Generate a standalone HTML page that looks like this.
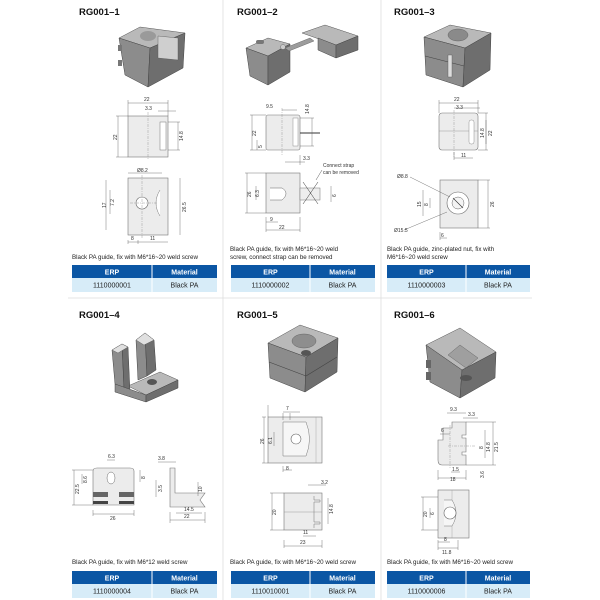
<!DOCTYPE html>
<html><head><meta charset="utf-8"><style>
html,body{margin:0;padding:0;background:#fff;}
svg{display:block;}
.t{font-family:"Liberation Sans",sans-serif;font-weight:bold;font-size:9.5px;fill:#111;}
.c{font-family:"Liberation Sans",sans-serif;font-size:6.2px;fill:#222;}
.d{font-family:"Liberation Sans",sans-serif;font-size:5px;fill:#333;}
.h{font-family:"Liberation Sans",sans-serif;font-weight:bold;font-size:7px;fill:#fff;}
.r{font-family:"Liberation Sans",sans-serif;font-size:7px;fill:#222;}
.v{fill:#ececec;stroke:#777;stroke-width:0.6;}
.dl{stroke:#555;stroke-width:0.4;fill:none;}
.cl{stroke:#888;stroke-width:0.4;stroke-dasharray:3 1 1 1;fill:none;}
.top{fill:#b9b9b9;stroke:#555;stroke-width:0.5;}
.fr{fill:#8c8c8c;stroke:#444;stroke-width:0.5;}
.sd{fill:#6e6e6e;stroke:#444;stroke-width:0.5;}
</style></head><body>
<svg width="600" height="600" viewBox="0 0 600 600" xmlns="http://www.w3.org/2000/svg">
<rect width="600" height="600" fill="#fff"/>
<!-- dividers -->
<line x1="223" y1="0" x2="223" y2="600" stroke="#ddd" stroke-width="0.8"/>
<line x1="381" y1="0" x2="381" y2="600" stroke="#ddd" stroke-width="0.8"/>
<line x1="68" y1="298" x2="532" y2="298" stroke="#ddd" stroke-width="0.8"/>

<!-- titles -->
<text class="t" x="79" y="15">RG001–1</text>
<text class="t" x="237" y="15">RG001–2</text>
<text class="t" x="394" y="15">RG001–3</text>
<text class="t" x="79" y="318">RG001–4</text>
<text class="t" x="237" y="318">RG001–5</text>
<text class="t" x="394" y="318">RG001–6</text>

<!-- ===== Cell 1 ===== -->
<polygon class="top" points="119,38 140,27 185,33 150,48"/>
<polygon class="fr" points="119,38 150,48 148,87 125,75"/>
<polygon class="sd" points="150,48 185,33 183,68 148,87"/>
<polygon fill="#cfcfcf" stroke="#555" stroke-width="0.4" points="158,36 178,38 178,60 158,58"/>
<ellipse cx="148" cy="36" rx="8" ry="5" fill="#9a9a9a"/>
<rect x="118" y="45" width="4" height="6" fill="#777"/><rect x="118" y="60" width="4" height="6" fill="#777"/>
<!-- side view -->
<rect class="v" x="128" y="116" width="40" height="41"/>
<rect x="160" y="122" width="6" height="28" fill="#fff" stroke="#777" stroke-width="0.5"/>
<line class="cl" x1="148" y1="112" x2="148" y2="160"/>
<path class="dl" d="M128,100 V116 M168,100 V116 M128,103 H168 M158,111 H176 M118,116 V157 M116,116 H128 M116,157 H128 M178,122 V150 M168,122 H180 M168,150 H180"/>
<text class="d" x="144" y="101">22</text><text class="d" x="145" y="110">3.3</text>
<text class="d" x="117" y="140" transform="rotate(-90 117 140)">22</text>
<text class="d" x="183" y="141" transform="rotate(-90 183 141)">14.8</text>
<!-- bottom view -->
<rect class="v" x="128" y="178" width="40" height="57"/>
<path d="M160,190 Q152,203 160,216" fill="#fff" stroke="#777" stroke-width="0.5"/>
<circle cx="142" cy="203" r="6" fill="#fff" stroke="#666" stroke-width="0.6"/>
<line class="cl" x1="130" y1="203" x2="158" y2="203"/><line class="cl" x1="142" y1="175" x2="142" y2="238"/>
<path class="dl" d="M128,173 H162 M110,190 V214 M106,180 V230 M180,178 V235 M128,240 V244 M128,242 H168 M138,240 V244"/>
<text class="d" x="137" y="172">Ø8.2</text>
<text class="d" x="106" y="208" transform="rotate(-90 106 208)">17</text>
<text class="d" x="114" y="206" transform="rotate(-90 114 206)">7.2</text>
<text class="d" x="186" y="212" transform="rotate(-90 186 212)">26.5</text>
<text class="d" x="131" y="240">8</text><text class="d" x="150" y="240">11</text>

<!-- ===== Cell 2 ===== -->
<polygon class="top" points="246,48 268,38 290,44 268,56"/>
<polygon class="fr" points="246,48 268,56 268,85 250,76"/>
<polygon class="sd" points="268,56 290,44 290,72 268,85"/>
<polygon fill="#9c9c9c" stroke="#555" stroke-width="0.4" points="285,48 310,38 314,41 289,51"/>
<polygon class="top" points="302,33 325,25 358,36 336,45"/>
<polygon class="fr" points="318,38 336,45 336,58 318,50"/>
<polygon class="sd" points="336,45 358,36 358,50 336,58"/>
<rect x="256" y="40" width="8" height="4" rx="2" fill="#777"/>
<circle cx="283" cy="47" r="2.5" fill="#ccc" stroke="#555" stroke-width="0.4"/>
<!-- side view -->
<rect class="v" x="266" y="115" width="34" height="35" rx="2"/>
<rect x="293" y="118" width="5" height="28" fill="#fff" stroke="#777" stroke-width="0.4"/>
<line x1="300" y1="133" x2="320" y2="133" stroke="#333" stroke-width="1"/>
<line class="cl" x1="282" y1="108" x2="282" y2="155"/>
<path class="dl" d="M282,110 H297 M252,115 V150 M250,115 H266 M250,150 H266 M257,140 V150 M312,118 V146 M300,118 H314 M300,146 H314 M285,162 H305 M300,155 V165"/>
<text class="d" x="266" y="108">9.5</text>
<text class="d" x="256" y="136" transform="rotate(-90 256 136)">22</text>
<text class="d" x="262" y="148" transform="rotate(-90 262 148)">5</text>
<text class="d" x="309" y="114" transform="rotate(-90 309 114)">14.8</text>
<text class="d" x="303" y="160">3.3</text>
<!-- bottom view -->
<rect class="v" x="266" y="173" width="34" height="40"/>
<path d="M270,188 H282 Q290,193 282,200 H270" fill="#fff" stroke="#666" stroke-width="0.5"/>
<rect x="300" y="188" width="20" height="12" fill="#eee" stroke="#777" stroke-width="0.5"/>
<path d="M303,182 L318,204 M318,182 L303,204" stroke="#333" stroke-width="0.5"/>
<line x1="316" y1="180" x2="322" y2="170" stroke="#333" stroke-width="0.4"/>
<text class="d" x="323" y="167">Connect strap</text><text class="d" x="323" y="174">can be removed</text>
<path class="dl" d="M247,173 V213 M245,173 H266 M245,213 H266 M256,186 V200 M331,186 V202 M266,217 V232 M300,217 V232 M266,230 H300 M266,222 H278"/>
<text class="d" x="251" y="197" transform="rotate(-90 251 197)">26</text>
<text class="d" x="259" y="197" transform="rotate(-90 259 197)">6.3</text>
<text class="d" x="336" y="197" transform="rotate(-90 336 197)">6</text>
<text class="d" x="270" y="221">9</text><text class="d" x="279" y="229">22</text>

<!-- ===== Cell 3 ===== -->
<polygon class="top" points="424,37 450,25 491,33 465,48" fill="#c2c2c2"/>
<ellipse cx="458" cy="35" rx="10" ry="6" fill="#8a8a8a" stroke="#555" stroke-width="0.4"/>
<polygon class="fr" points="424,37 465,48 463,87 426,75"/>
<polygon class="sd" points="465,48 491,33 490,70 463,87"/>
<line x1="425" y1="56" x2="464" y2="66" stroke="#444" stroke-width="0.6"/>
<rect x="448" y="55" width="4" height="22" fill="#ddd" stroke="#555" stroke-width="0.4"/>
<!-- side view -->
<rect class="v" x="439" y="113" width="39" height="37" rx="3"/>
<line x1="439" y1="131" x2="478" y2="131" stroke="#888" stroke-width="0.4"/>
<rect x="469" y="120" width="5" height="24" rx="2" fill="#fff" stroke="#777" stroke-width="0.4"/>
<line class="cl" x1="454" y1="110" x2="454" y2="158"/>
<path class="dl" d="M439,100 V113 M478,100 V113 M439,103 H478 M454,108 H480 M486,113 V150 M478,113 H488 M478,150 H488 M486,120 V144 M454,152 V160 M454,158 H473"/>
<text class="d" x="454" y="101">22</text><text class="d" x="456" y="109">3.3</text>
<text class="d" x="492" y="136" transform="rotate(-90 492 136)">22</text>
<text class="d" x="484" y="138" transform="rotate(-90 484 138)">14.8</text>
<text class="d" x="461" y="157">11</text>
<!-- bottom view -->
<rect class="v" x="440" y="180" width="38" height="48"/>
<circle cx="458" cy="203" r="11" fill="#fff" stroke="#666" stroke-width="0.6"/>
<circle cx="458" cy="203" r="6" fill="#f4f4f4" stroke="#666" stroke-width="0.5"/>
<line x1="453" y1="198" x2="463" y2="208" stroke="#333" stroke-width="0.6"/>
<path class="dl" d="M410,177 L450,197 M404,230 L447,212 M423,190 V216 M430,198 V208 M488,180 V228 M478,180 H490 M478,228 H490 M440,232 V240 M440,238 H447"/>
<text class="d" x="397" y="178">Ø8.8</text><text class="d" x="394" y="232">Ø15.5</text>
<text class="d" x="421" y="207" transform="rotate(-90 421 207)">15</text>
<text class="d" x="428" y="206" transform="rotate(-90 428 206)">8</text>
<text class="d" x="494" y="207" transform="rotate(-90 494 207)">26</text>
<text class="d" x="441" y="237">6</text>

<!-- ===== Cell 4 ===== -->
<polygon class="top" points="128,386 160,372 178,380 146,395"/>
<polygon class="fr" points="112,350 122,344 124,388 115,384"/>
<polygon class="fr" points="136,340 145,333 147,376 138,380"/>
<polygon class="sd" points="122,344 128,347 130,392 124,388"/>
<polygon class="sd" points="145,333 154,340 156,370 147,376"/>
<polygon fill="#e0e0e0" stroke="#555" stroke-width="0.4" points="112,350 122,344 128,347 118,353"/>
<polygon fill="#e0e0e0" stroke="#555" stroke-width="0.4" points="136,340 145,333 154,340 144,345"/>
<polygon class="fr" points="115,384 146,395 146,402 115,392"/>
<polygon class="sd" points="146,395 178,380 178,388 146,402"/>
<ellipse cx="152" cy="382" rx="5" ry="3" fill="#555"/>
<!-- front view -->
<path class="v" d="M93,471 Q93,468 97,468 H130 Q134,468 134,471 V505 H93 Z"/>
<rect x="93" y="492" width="15" height="5" fill="#666"/><rect x="119" y="492" width="15" height="5" fill="#666"/>
<rect x="93" y="501" width="15" height="3" fill="#444"/><rect x="119" y="501" width="15" height="3" fill="#444"/>
<ellipse cx="111" cy="478" rx="4" ry="6" fill="#fff" stroke="#666" stroke-width="0.5"/>
<path class="dl" d="M74,470 V505 M72,470 H93 M72,505 H93 M82,474 V484 M140,470 V482 M93,510 V516 M134,510 V516 M93,514 H134 M107,460 H115"/>
<text class="d" x="108" y="458">6.3</text>
<text class="d" x="79" y="494" transform="rotate(-90 79 494)">22.5</text>
<text class="d" x="87" y="483" transform="rotate(-90 87 483)">8.6</text>
<text class="d" x="145" y="479" transform="rotate(-90 145 479)">8</text>
<text class="d" x="110" y="520">26</text>
<!-- L view -->
<path d="M170,468 H175 V493 H205 L200,500 L205,507 H170 Z" fill="#ececec" stroke="#777" stroke-width="0.6"/>
<path class="dl" d="M158,462 H176 M156,480 V497 M198,482 V496 M176,513 H202 M170,520 H205 M170,512 V523 M205,512 V523"/>
<text class="d" x="158" y="460">3.8</text>
<text class="d" x="162" y="492" transform="rotate(-90 162 492)">3.5</text>
<text class="d" x="202" y="492" transform="rotate(-90 202 492)">10</text>
<text class="d" x="184" y="511">14.5</text><text class="d" x="184" y="518">22</text>

<!-- ===== Cell 5 ===== -->
<polygon class="top" points="268,343 300,325 338,338 306,357"/>
<ellipse cx="304" cy="341" rx="12" ry="7" fill="#8e8e8e" stroke="#555" stroke-width="0.4"/>
<polygon class="fr" points="268,343 306,357 305,392 270,378"/>
<polygon class="sd" points="306,357 338,338 337,372 305,392"/>
<line x1="269" y1="362" x2="306" y2="376" stroke="#444" stroke-width="0.6"/>
<line x1="306" y1="376" x2="337" y2="357" stroke="#444" stroke-width="0.6"/>
<ellipse cx="306" cy="353" rx="5" ry="3" fill="#555"/>
<!-- top view -->
<rect class="v" x="268" y="417" width="54" height="46"/>
<path d="M283,422 H306 Q313,439 306,456 H283 Z" fill="#f6f6f6" stroke="#777" stroke-width="0.5"/>
<line x1="316" y1="417" x2="316" y2="463" stroke="#999" stroke-width="0.4"/>
<circle cx="296" cy="439" r="5" fill="#fff" stroke="#666" stroke-width="0.6"/>
<path class="dl" d="M268,417 V405 M283,413 V420 M290,413 V420 M283,412 H300 M266,417 H262 M264,417 V463 M262,463 H268 M274,432 V446 M283,466 V472 M283,470 H292"/>
<text class="d" x="286" y="410">7</text>
<text class="d" x="264" y="444" transform="rotate(-90 264 444)">26</text>
<text class="d" x="272" y="444" transform="rotate(-90 272 444)">6.1</text>
<text class="d" x="286" y="470">8</text>
<!-- bottom rect -->
<rect class="v" x="284" y="493" width="38" height="37"/>
<line x1="284" y1="512" x2="322" y2="512" stroke="#888" stroke-width="0.4"/>
<path d="M314,496 V500 H320 V502 H314 V522 H320 V524 H314 V528" fill="none" stroke="#777" stroke-width="0.5"/>
<path class="dl" d="M272,493 V530 M270,493 H284 M270,530 H284 M328,498 V524 M308,485 H326 M303,536 H316 M284,546 H322 M284,540 V548 M322,540 V548"/>
<text class="d" x="321" y="484">3.2</text>
<text class="d" x="276" y="515" transform="rotate(-90 276 515)">20</text>
<text class="d" x="333" y="514" transform="rotate(-90 333 514)">14.8</text>
<text class="d" x="303" y="534">11</text><text class="d" x="300" y="544">23</text>

<!-- ===== Cell 6 ===== -->
<polygon class="top" points="426,345 460,328 496,352 462,370"/>
<polygon fill="#9f9f9f" stroke="#555" stroke-width="0.4" points="448,355 460,345 478,358 466,368"/>
<polygon class="fr" points="426,345 462,370 460,398 430,382"/>
<polygon class="sd" points="462,370 496,352 495,378 460,398"/>
<rect x="426" y="360" width="5" height="8" fill="#666"/><rect x="426" y="372" width="5" height="8" fill="#666"/>
<ellipse cx="466" cy="378" rx="6" ry="3" fill="#555"/>
<!-- profile -->
<path d="M438,440 H443 V428 H452 V422 H466 V435 H462 V438 H466 V452 H462 V455 H466 V465 H442 Q438,465 438,460 Z" fill="#ececec" stroke="#777" stroke-width="0.6"/>
<line class="cl" x1="450" y1="425" x2="450" y2="468"/>
<line class="cl" x1="448" y1="446" x2="475" y2="446"/>
<path class="dl" d="M447,413 H466 M463,418 H478 M440,434 H450 M466,422 H496 M493,422 V465 M466,465 H496 M485,430 V458 M451,472 H460 M438,478 H466 M438,470 V480 M466,470 V480"/>
<text class="d" x="450" y="411">9.3</text><text class="d" x="468" y="416">3.3</text>
<text class="d" x="441" y="432">6</text>
<text class="d" x="483" y="449" transform="rotate(-90 483 449)">8</text>
<text class="d" x="490" y="452" transform="rotate(-90 490 452)">14.8</text>
<text class="d" x="498" y="452" transform="rotate(-90 498 452)">21.5</text>
<text class="d" x="452" y="471">1.5</text><text class="d" x="450" y="481">18</text>
<text class="d" x="484" y="478" transform="rotate(-90 484 478)">3.6</text>
<!-- bottom -->
<rect class="v" x="438" y="490" width="31" height="48"/>
<line x1="452" y1="490" x2="452" y2="538" stroke="#999" stroke-width="0.4"/>
<path d="M444,500 H452 Q460,513 452,526 H444" fill="#f6f6f6" stroke="#777" stroke-width="0.5"/>
<circle cx="450" cy="513" r="6" fill="#fff" stroke="#666" stroke-width="0.6"/>
<path class="dl" d="M423,497 V530 M421,497 H438 M421,530 H438 M430,508 V518 M438,540 V550 M458,540 V550 M438,542 H450 M438,548 H458"/>
<text class="d" x="427" y="517" transform="rotate(-90 427 517)">20</text>
<text class="d" x="434" y="515" transform="rotate(-90 434 515)">6</text>
<text class="d" x="444" y="541">8</text><text class="d" x="442" y="554">11.8</text>

<!-- ===== captions ===== -->
<text class="c" x="72" y="259">Black PA guide, fix with M6*16~20 weld screw</text>
<text class="c" x="230" y="251">Black PA guide,  fix with M6*16~20 weld</text>
<text class="c" x="230" y="259">screw, connect strap can be removed</text>
<text class="c" x="387" y="251">Black PA guide, zinc-plated nut, fix with</text>
<text class="c" x="387" y="259">M6*16~20 weld screw</text>
<text class="c" x="72" y="564">Black PA guide, fix with M6*12 weld screw</text>
<text class="c" x="230" y="564">Black PA guide, fix with M6*16~20 weld screw</text>
<text class="c" x="387" y="564">Black PA guide, fix with M6*16~20 weld screw</text>

<!-- ===== tables ===== -->
<g id="tb">
</g>
<!-- table 1 -->
<rect x="72" y="265" width="145" height="13" fill="#0b56a4"/>
<rect x="72" y="278" width="145" height="14" fill="#d7ecf8"/>
<line x1="152" y1="265" x2="152" y2="292" stroke="#fff" stroke-width="1"/>
<text class="h" x="112" y="274.5" text-anchor="middle">ERP</text><text class="h" x="184.5" y="274.5" text-anchor="middle">Material</text>
<text class="r" x="112" y="287.5" text-anchor="middle">1110000001</text><text class="r" x="184.5" y="287.5" text-anchor="middle">Black PA</text>
<!-- table 2 -->
<rect x="231" y="265" width="144" height="13" fill="#0b56a4"/>
<rect x="231" y="278" width="144" height="14" fill="#d7ecf8"/>
<line x1="310" y1="265" x2="310" y2="292" stroke="#fff" stroke-width="1"/>
<text class="h" x="270.5" y="274.5" text-anchor="middle">ERP</text><text class="h" x="342.5" y="274.5" text-anchor="middle">Material</text>
<text class="r" x="270.5" y="287.5" text-anchor="middle">1110000002</text><text class="r" x="342.5" y="287.5" text-anchor="middle">Black PA</text>
<!-- table 3 -->
<rect x="387" y="265" width="143" height="13" fill="#0b56a4"/>
<rect x="387" y="278" width="143" height="14" fill="#d7ecf8"/>
<line x1="466" y1="265" x2="466" y2="292" stroke="#fff" stroke-width="1"/>
<text class="h" x="426.5" y="274.5" text-anchor="middle">ERP</text><text class="h" x="498" y="274.5" text-anchor="middle">Material</text>
<text class="r" x="426.5" y="287.5" text-anchor="middle">1110000003</text><text class="r" x="498" y="287.5" text-anchor="middle">Black PA</text>
<!-- table 4 -->
<rect x="72" y="571" width="145" height="13" fill="#0b56a4"/>
<rect x="72" y="584" width="145" height="14" fill="#d7ecf8"/>
<line x1="152" y1="571" x2="152" y2="598" stroke="#fff" stroke-width="1"/>
<text class="h" x="112" y="580.5" text-anchor="middle">ERP</text><text class="h" x="184.5" y="580.5" text-anchor="middle">Material</text>
<text class="r" x="112" y="593.5" text-anchor="middle">1110000004</text><text class="r" x="184.5" y="593.5" text-anchor="middle">Black PA</text>
<!-- table 5 -->
<rect x="231" y="571" width="144" height="13" fill="#0b56a4"/>
<rect x="231" y="584" width="144" height="14" fill="#d7ecf8"/>
<line x1="310" y1="571" x2="310" y2="598" stroke="#fff" stroke-width="1"/>
<text class="h" x="270.5" y="580.5" text-anchor="middle">ERP</text><text class="h" x="342.5" y="580.5" text-anchor="middle">Material</text>
<text class="r" x="270.5" y="593.5" text-anchor="middle">1110010001</text><text class="r" x="342.5" y="593.5" text-anchor="middle">Black PA</text>
<!-- table 6 -->
<rect x="387" y="571" width="143" height="13" fill="#0b56a4"/>
<rect x="387" y="584" width="143" height="14" fill="#d7ecf8"/>
<line x1="466" y1="571" x2="466" y2="598" stroke="#fff" stroke-width="1"/>
<text class="h" x="426.5" y="580.5" text-anchor="middle">ERP</text><text class="h" x="498" y="580.5" text-anchor="middle">Material</text>
<text class="r" x="426.5" y="593.5" text-anchor="middle">1110000006</text><text class="r" x="498" y="593.5" text-anchor="middle">Black PA</text>
</svg>
</body></html>
